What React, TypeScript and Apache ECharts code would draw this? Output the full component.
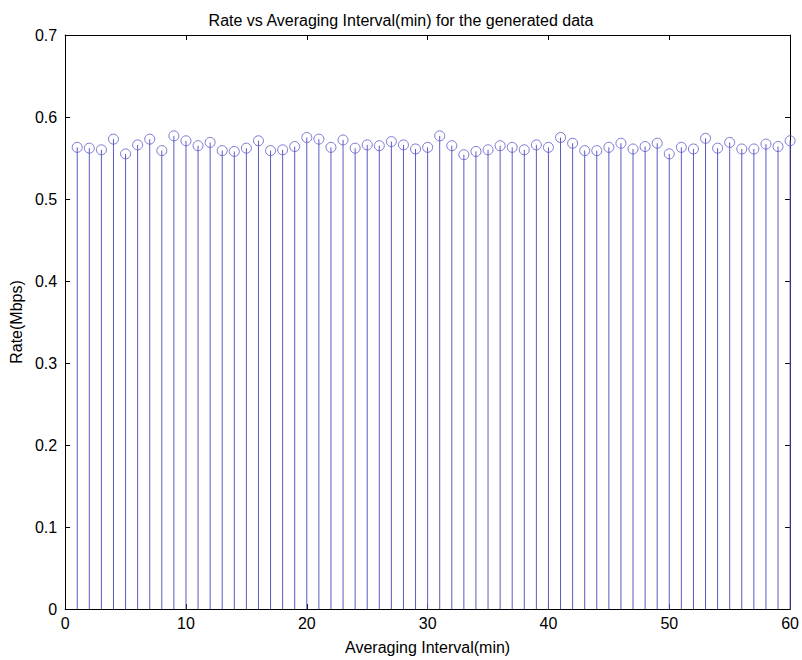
import React, { useEffect, useRef } from "react";
import * as echarts from "echarts";

const titleText = "Rate vs Averaging Interval(min) for the generated data";
const xName = "Averaging Interval(min)";
const yName = "Rate(Mbps)";
const intervals = [
  1, 2, 3, 4, 5, 6, 7, 8, 9, 10, 11, 12, 13, 14, 15, 16, 17, 18, 19, 20,
  21, 22, 23, 24, 25, 26, 27, 28, 29, 30, 31, 32, 33, 34, 35, 36, 37, 38, 39, 40,
  41, 42, 43, 44, 45, 46, 47, 48, 49, 50, 51, 52, 53, 54, 55, 56, 57, 58, 59, 60,
];
const rates = [
  0.563, 0.562, 0.56, 0.573, 0.555, 0.566, 0.573, 0.559, 0.577, 0.571,
  0.565, 0.569, 0.559, 0.558, 0.562, 0.571, 0.559, 0.56, 0.564, 0.575,
  0.573, 0.563, 0.572, 0.562, 0.566, 0.565, 0.57, 0.566, 0.561, 0.563,
  0.577, 0.565, 0.554, 0.558, 0.56, 0.565, 0.563, 0.56, 0.566, 0.563,
  0.575, 0.568, 0.559, 0.559, 0.563, 0.568, 0.561, 0.564, 0.568, 0.555,
  0.563, 0.561, 0.574, 0.562, 0.569, 0.561, 0.561, 0.567, 0.564, 0.571,
];

const FONT = "'Liberation Sans Narrow', 'Liberation Sans', Arial, sans-serif";
const STEM = "#5a5ac8";

export default function App() {
  const ref = useRef<HTMLDivElement>(null);
  useEffect(() => {
    if (!ref.current) return;
    const chart = echarts.init(ref.current, null, { renderer: "svg" });
    const data = intervals.map((x, i) => [x, rates[i]]);
    const axisCommon = {
      axisLine: { show: true, onZero: false, lineStyle: { color: "#000", width: 1 } },
      axisTick: { show: true, inside: true, length: 5, lineStyle: { color: "#000" } },
      splitLine: { show: false },
    };
    chart.setOption({
      animation: false,
      backgroundColor: "#fff",
      title: {
        text: titleText,
        left: "center",
        top: 7,
        textStyle: { fontFamily: FONT, fontSize: 16, fontWeight: "normal", color: "#000" },
      },
      grid: { left: 58, right: 9, top: 35, bottom: 47 },
      xAxis: [
        {
          type: "value",
          min: 0,
          max: 60,
          interval: 10,
          position: "bottom",
          name: xName,
          nameLocation: "middle",
          nameGap: 30,
          nameTextStyle: { fontFamily: FONT, fontSize: 16, color: "#000" },
          axisLabel: { fontFamily: FONT, fontSize: 16, color: "#000", margin: 6 },
          ...axisCommon,
        },
        {
          type: "value",
          min: 0,
          max: 60,
          interval: 10,
          position: "top",
          axisLabel: { show: false },
          ...axisCommon,
        },
      ],
      yAxis: [
        {
          type: "value",
          min: 0,
          max: 0.7,
          interval: 0.1,
          position: "left",
          name: yName,
          nameLocation: "middle",
          nameGap: 32,
          nameRotate: 90,
          nameTextStyle: { fontFamily: FONT, fontSize: 16, color: "#000" },
          axisLabel: { fontFamily: FONT, fontSize: 16, color: "#000", margin: 8 },
          ...axisCommon,
        },
        {
          type: "value",
          min: 0,
          max: 0.7,
          interval: 0.1,
          position: "right",
          axisLabel: { show: false },
          ...axisCommon,
        },
      ],
      series: [
        {
          type: "custom",
          xAxisIndex: 0,
          yAxisIndex: 0,
          data,
          renderItem: (params: any, api: any) => {
            const top = api.coord([api.value(0), api.value(1)]);
            const base = api.coord([api.value(0), 0]);
            return {
              type: "line",
              shape: { x1: top[0], y1: top[1], x2: base[0], y2: base[1] },
              style: { stroke: STEM, lineWidth: 1 },
            };
          },
          z: 2,
        },
        {
          type: "scatter",
          xAxisIndex: 0,
          yAxisIndex: 0,
          data,
          symbol: "circle",
          symbolSize: 10,
          itemStyle: { color: "rgba(255,255,255,0)", borderColor: STEM, borderWidth: 1 },
          z: 3,
        },
      ],
    });
    return () => chart.dispose();
  }, []);
  return (
    <div
      ref={ref}
      style={{ position: "absolute", left: 0, top: 0, width: 802, height: 660 }}
    />
  );
}
